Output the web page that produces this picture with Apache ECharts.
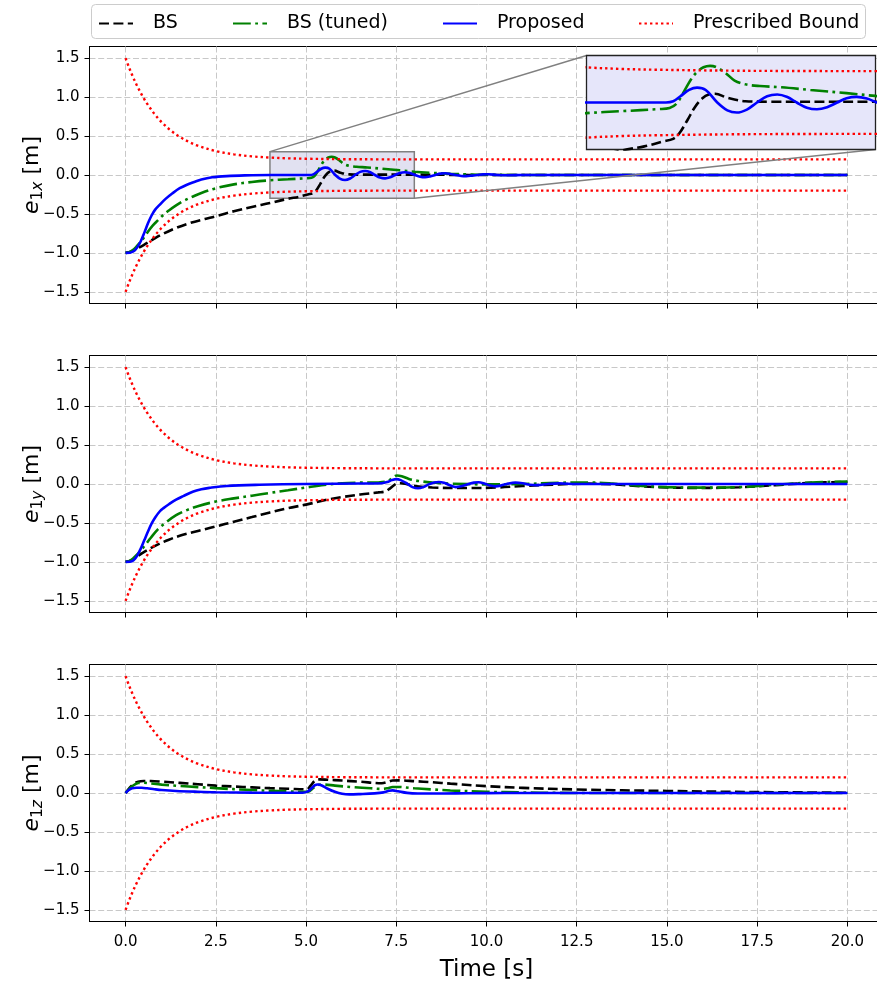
<!DOCTYPE html>
<html><head><meta charset="utf-8">
<script src="https://cdn.jsdelivr.net/npm/echarts@6/dist/echarts.min.js"></script>
<style>html,body{margin:0;padding:0;background:#fff}#c{width:877px;height:984px}</style>
</head><body><div id="c"></div>
<script>
// ---------- tick labels / categories ----------
const xTicks = [0, 2.5, 5, 7.5, 10, 12.5, 15, 17.5, 20];
const yTicks = [-1.5, -1, -0.5, 0, 0.5, 1, 1.5];
const seriesNames = ['BS', 'BS (tuned)', 'Proposed', 'Prescribed Bound'];
const panelSubs = [['1', 'x'], ['1', 'y'], ['1', 'z']];
const xTitle = 'Time [s]';
const zoomX = [4, 8];
const zoomY = [-0.3, 0.3];

// ---------- prescribed bound (upper; lower is its mirror) ----------
const boundUpper = [[0,1.5],[0.1,1.376],[0.2,1.264],[0.3,1.163],[0.4,1.071],[0.5,0.988],[0.6,0.913],[0.8,0.784],[1,0.678],[1.25,0.572],[1.5,0.49],[1.75,0.426],[2,0.376],[2.5,0.307],[3,0.265],[3.5,0.239],[4,0.224],[4.5,0.214],[5,0.209],[6,0.203],[7,0.201],[8,0.2],[10,0.2],[20,0.2]];

// ---------- e1x ----------
const bsX = [[0,-1],[0.15,-0.985],[0.3,-0.95],[0.5,-0.9],[0.75,-0.83],[1,-0.765],[1.4,-0.68],[1.8,-0.615],[2.2,-0.565],[2.5,-0.53],[3,-0.465],[3.5,-0.41],[4,-0.36],[4.5,-0.305],[4.8,-0.28],[5.05,-0.25],[5.2,-0.232],[5.28,-0.2],[5.4,-0.11],[5.5,-0.03],[5.6,0.025],[5.7,0.052],[5.78,0.056],[5.95,0.03],[6.2,0.008],[6.5,0.005],[8,0.005],[9,0.002],[10,0],[20,0]];
const tunedX = [[0,-1],[0.1,-0.99],[0.2,-0.965],[0.3,-0.92],[0.45,-0.84],[0.6,-0.74],[0.75,-0.65],[0.9,-0.58],[1.05,-0.51],[1.2,-0.455],[1.4,-0.39],[1.6,-0.335],[1.85,-0.28],[2.1,-0.23],[2.5,-0.17],[3,-0.12],[3.5,-0.09],[4,-0.068],[4.5,-0.055],[5,-0.042],[5.15,-0.035],[5.25,-0.005],[5.35,0.07],[5.45,0.15],[5.53,0.195],[5.62,0.225],[5.71,0.234],[5.8,0.225],[5.92,0.19],[6.05,0.14],[6.2,0.116],[6.4,0.105],[6.7,0.097],[7.1,0.08],[7.6,0.06],[8,0.042],[8.5,0.027],[9,0.016],[9.5,0.008],[10,0.003],[11,0],[20,0]];
const propX = [[0,-1],[0.12,-0.998],[0.22,-0.98],[0.32,-0.93],[0.42,-0.85],[0.52,-0.74],[0.62,-0.62],[0.72,-0.52],[0.82,-0.445],[0.95,-0.38],[1.1,-0.31],[1.3,-0.235],[1.5,-0.17],[1.7,-0.125],[1.9,-0.09],[2.1,-0.058],[2.4,-0.03],[2.8,-0.014],[3.3,-0.005],[4,0],[5.1,0],[5.2,0.008],[5.3,0.04],[5.42,0.08],[5.53,0.095],[5.65,0.08],[5.81,0],[5.95,-0.05],[6.08,-0.064],[6.22,-0.045],[6.36,0],[6.5,0.04],[6.64,0.051],[6.78,0.035],[6.91,0],[7.05,-0.033],[7.19,-0.043],[7.33,-0.03],[7.47,0],[7.6,0.027],[7.74,0.036],[7.88,0.025],[8.02,0],[8.16,-0.022],[8.3,-0.028],[8.44,-0.018],[8.58,0],[8.72,0.018],[8.86,0.022],[9,0.014],[9.14,0],[9.3,-0.012],[9.44,-0.015],[9.6,-0.008],[9.75,0],[9.9,0.008],[10.05,0.009],[10.3,0],[10.6,-0.004],[11,0],[20,0]];

// ---------- e1y ----------
const bsY = [[0,-1],[0.15,-0.98],[0.3,-0.94],[0.45,-0.89],[0.65,-0.835],[0.9,-0.775],[1.2,-0.715],[1.5,-0.665],[1.86,-0.62],[2.2,-0.58],[2.5,-0.545],[3,-0.485],[3.5,-0.425],[4,-0.365],[4.5,-0.31],[5,-0.265],[5.6,-0.2],[6,-0.168],[6.5,-0.135],[7,-0.108],[7.2,-0.095],[7.32,-0.06],[7.45,-0.01],[7.58,0.01],[7.75,0.005],[8,-0.025],[8.5,-0.045],[9.5,-0.052],[10.3,-0.045],[11,-0.025],[12,-0.005],[12.8,0.005],[13.5,-0.005],[14.3,-0.03],[15,-0.045],[16,-0.05],[17,-0.042],[18,-0.015],[19,0.015],[20,0.025]];
const tunedY = [[0,-1],[0.1,-0.99],[0.2,-0.96],[0.3,-0.915],[0.4,-0.865],[0.55,-0.78],[0.7,-0.69],[0.9,-0.58],[1.1,-0.5],[1.4,-0.4],[1.7,-0.335],[2,-0.285],[2.5,-0.225],[3,-0.185],[3.5,-0.15],[4,-0.115],[4.5,-0.08],[5,-0.045],[5.5,-0.012],[6,0.01],[6.5,0.018],[7,0.02],[7.25,0.035],[7.4,0.08],[7.52,0.11],[7.65,0.1],[7.85,0.065],[8.1,0.04],[8.5,0.02],[9,0.005],[10,-0.005],[11,0],[12,0.015],[12.8,0.02],[13.5,0.005],[14.3,-0.025],[15,-0.04],[16,-0.047],[17,-0.04],[18,-0.01],[19,0.02],[20,0.03]];
const propY = [[0,-1],[0.12,-0.998],[0.22,-0.98],[0.32,-0.92],[0.42,-0.83],[0.52,-0.72],[0.62,-0.61],[0.72,-0.51],[0.82,-0.43],[0.95,-0.35],[1.05,-0.31],[1.2,-0.26],[1.4,-0.2],[1.6,-0.155],[1.86,-0.1],[2.1,-0.068],[2.32,-0.05],[2.8,-0.025],[3.7,-0.01],[5,0],[6.5,0.006],[7.1,0.01],[7.25,0.025],[7.38,0.05],[7.5,0.062],[7.62,0.05],[7.8,0.005],[7.95,-0.04],[8.1,-0.055],[8.25,-0.04],[8.4,-0.005],[8.55,0.02],[8.68,0.026],[8.82,0.015],[9,-0.02],[9.15,-0.04],[9.3,-0.03],[9.5,0],[9.65,0.018],[9.78,0.022],[9.92,0.01],[10.1,-0.02],[10.25,-0.03],[10.4,-0.02],[10.6,0.005],[10.8,0.018],[11,0.01],[11.2,-0.01],[11.4,-0.015],[11.7,0],[12,0.008],[12.5,0],[20,0]];

// ---------- e1z ----------
const bsZ = [[0,0],[0.1,0.06],[0.22,0.115],[0.35,0.145],[0.5,0.155],[0.7,0.154],[1,0.146],[1.5,0.13],[2,0.112],[2.5,0.095],[3,0.083],[3.5,0.072],[4,0.062],[4.5,0.055],[5.02,0.047],[5.12,0.09],[5.25,0.16],[5.38,0.175],[5.6,0.17],[6,0.16],[6.5,0.145],[7.1,0.125],[7.25,0.14],[7.4,0.16],[7.6,0.162],[8,0.152],[8.5,0.138],[9,0.12],[10,0.088],[11,0.066],[12.5,0.045],[15,0.026],[17.5,0.012],[20,0.004]];
const tunedZ = [[0,0],[0.1,0.05],[0.22,0.1],[0.35,0.128],[0.5,0.132],[0.7,0.122],[1,0.108],[1.5,0.09],[2,0.076],[2.5,0.062],[3.5,0.038],[4.5,0.021],[5,0.014],[5.1,0.025],[5.22,0.07],[5.35,0.105],[5.5,0.108],[5.8,0.095],[6.3,0.075],[6.8,0.06],[7.1,0.052],[7.25,0.06],[7.4,0.078],[7.55,0.078],[8,0.06],[8.5,0.045],[9,0.033],[10,0.016],[11,0.007],[12,0.002],[13,0],[20,0]];
const propZ = [[0,0],[0.08,0.035],[0.18,0.06],[0.3,0.068],[0.45,0.067],[0.6,0.06],[0.8,0.048],[1,0.038],[1.4,0.026],[2,0.016],[2.5,0.01],[3.5,0.005],[4.9,0.003],[5.05,0.02],[5.15,0.06],[5.25,0.1],[5.32,0.11],[5.42,0.1],[5.6,0.055],[5.8,0.015],[6,-0.01],[6.2,-0.018],[6.5,-0.014],[6.9,-0.005],[7.15,0.008],[7.3,0.028],[7.4,0.034],[7.55,0.022],[7.8,0.002],[8.1,-0.006],[8.6,-0.007],[9.5,-0.003],[10.5,0],[20,0]];

const panels = [[bsX, tunedX, propX], [bsY, tunedY, propY], [bsZ, tunedZ, propZ]];

// ---------- styling ----------
const FONT = 'DejaVu Sans';
const colors = ['#000000', '#008000', '#0000ff', '#ff0000'];
const dashes = [[10, 4.4], [17.8, 4.4, 2.8, 4.4], 'solid', [2.4, 3.1]];
const widths = [2.6, 2.6, 2.6, 2.4];
const gridTops = [46.5, 355.5, 664.5];
const GH = 257, GL = 89.5, GW = 794;
const inset = {left: 586.5, top: 55.5, width: 289, height: 94};

function fmt(v) { return (v < 0 ? '\u2212' : '') + Math.abs(v).toFixed(1); }

const grids = gridTops.map(t => ({left: GL, top: t, width: GW, height: GH, show: true,
  borderColor: '#000', borderWidth: 1, backgroundColor: 'transparent', outerBoundsMode: 'none'}));
grids.push({left: inset.left, top: inset.top, width: inset.width, height: inset.height, show: true,
  backgroundColor: '#e6e6fa', borderColor: '#222', borderWidth: 1.3, z: 5, outerBoundsMode: 'none'});

const splitStyle = {show: true, lineStyle: {color: '#c8c8c8', type: [6, 2.7], width: 1}};
const xAxes = gridTops.map((t, i) => ({
  type: 'value', gridIndex: i, min: -1, max: 21,
  axisLine: {show: true, onZero: false, lineStyle: {color: '#000', width: 1}},
  axisTick: {show: true, length: 5, customValues: xTicks, lineStyle: {color: '#000', width: 1}},
  axisLabel: {show: i === 2, customValues: xTicks, margin: 13, fontSize: 15, color: '#000', fontFamily: FONT, formatter: fmt},
  splitLine: splitStyle,
  name: i === 2 ? xTitle : '', nameLocation: 'middle', nameGap: 37, nameMoveOverlap: false,
  nameTextStyle: {fontSize: 23, fontFamily: FONT, color: '#000'}
}));
xAxes.push({type: 'value', gridIndex: 3, min: zoomX[0], max: zoomX[1], show: false});

const yAxes = gridTops.map((t, i) => ({
  type: 'value', gridIndex: i, min: -1.65, max: 1.65,
  axisLine: {show: true, onZero: false, lineStyle: {color: '#000', width: 1}},
  axisTick: {show: true, length: 5, customValues: yTicks, lineStyle: {color: '#000', width: 1}},
  axisLabel: {show: true, customValues: yTicks, margin: 10, fontSize: 15, color: '#000', fontFamily: FONT, formatter: fmt},
  splitLine: splitStyle,
  name: '{e|e}{s|' + panelSubs[i][0] + '}{sx|' + panelSubs[i][1] + '}{n| [m]}',
  nameLocation: 'middle', nameRotate: 90, nameGap: 44, nameMoveOverlap: false,
  nameTextStyle: {color: '#000', rich: {
    e: {fontSize: 22, fontStyle: 'italic', fontFamily: FONT, color: '#000'},
    s: {fontSize: 15.5, fontFamily: FONT, color: '#000', padding: [10, 0, 0, 0]},
    sx: {fontSize: 15.5, fontStyle: 'italic', fontFamily: FONT, color: '#000', padding: [10, 0, 0, 0]},
    n: {fontSize: 22, fontFamily: FONT, color: '#000'}
  }}
}));
yAxes.push({type: 'value', gridIndex: 3, min: zoomY[0], max: zoomY[1], show: false});

function mkLine(k, data, gi, z) {
  return {type: 'line', name: seriesNames[k], data: data, xAxisIndex: gi, yAxisIndex: gi,
    symbol: 'none', showSymbol: false, smooth: 0.35, z: z, silent: true, animation: false,
    lineStyle: {color: colors[k], type: dashes[k], width: widths[k], cap: 'butt'},
    itemStyle: {color: colors[k]}, emphasis: {disabled: true}};
}
const boundLower = boundUpper.map(p => [p[0], -p[1]]);

const series = [];
panels.forEach((pd, i) => {
  pd.forEach((d, k) => series.push(mkLine(k, d, i, 2)));
  series.push(mkLine(3, boundUpper, i, 2));
  series.push(mkLine(3, boundLower, i, 2));
});
// zoom rectangle in the first panel
series.push({type: 'line', name: 'zoomRect', data: [], xAxisIndex: 0, yAxisIndex: 0, z: 1, silent: true,
  markArea: {silent: true, itemStyle: {color: 'rgba(170,170,215,0.35)', borderColor: '#808080', borderWidth: 1.5},
    data: [[{xAxis: zoomX[0], yAxis: zoomY[1]}, {xAxis: zoomX[1], yAxis: zoomY[0]}]]}});
// inset series
panels[0].forEach((d, k) => series.push(mkLine(k, d, 3, 6)));
series.push(mkLine(3, boundUpper, 3, 6));
series.push(mkLine(3, boundLower, 3, 6));

const legendLeft = [98, 232, 442, 638];
const legends = seriesNames.map((n, i) => ({
  data: [n], left: legendLeft[i], top: 14, itemWidth: 34, itemHeight: 14, itemGap: 0, padding: 0,
  selectedMode: false, itemStyle: {color: 'rgba(0,0,0,0)', borderWidth: 0, opacity: 0},
  textStyle: {fontSize: 19, fontFamily: FONT, color: '#000', padding: [0, 0, 0, 15]}
}));

const frame = {type: 'rect', id: 'frame', shape: {x: 91.5, y: 4.5, width: 774, height: 34, r: 4},
  style: {fill: '#fff', stroke: '#cccccc', lineWidth: 1}, z: 0};

const chart = echarts.init(document.getElementById('c'), null, {renderer: 'canvas'});
chart.setOption({
  animation: false,
  textStyle: {fontFamily: FONT},
  grid: grids, xAxis: xAxes, yAxis: yAxes, series: series, legend: legends,
  graphic: {elements: [frame]}
});

const p1 = chart.convertToPixel({gridIndex: 0}, [zoomX[0], zoomY[1]]);
const q1 = chart.convertToPixel({gridIndex: 3}, [zoomX[0], zoomY[1]]);
const p2 = chart.convertToPixel({gridIndex: 0}, [zoomX[1], zoomY[0]]);
const q2 = chart.convertToPixel({gridIndex: 3}, [zoomX[1], zoomY[0]]);
chart.setOption({graphic: {elements: [frame,
  {type: 'line', id: 'c1', shape: {x1: p1[0], y1: p1[1], x2: q1[0], y2: q1[1]}, style: {stroke: '#808080', lineWidth: 1.5}, z: 4, silent: true},
  {type: 'line', id: 'c2', shape: {x1: p2[0], y1: p2[1], x2: q2[0], y2: q2[1]}, style: {stroke: '#808080', lineWidth: 1.5}, z: 4, silent: true}
]}});
</script></body></html>
